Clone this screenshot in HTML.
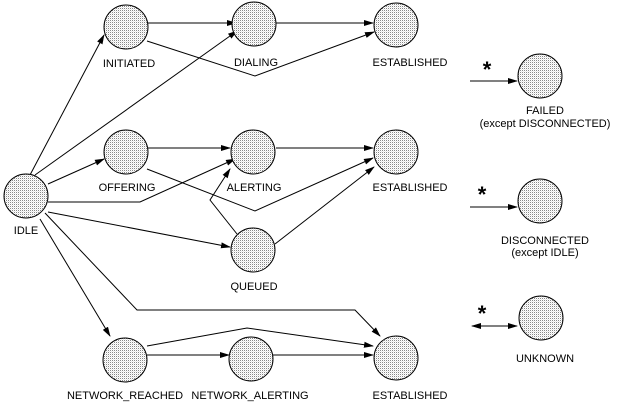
<!DOCTYPE html>
<html><head><style>
html,body{margin:0;padding:0;background:#fff;}
svg{display:block;}
text{font-family:"Liberation Sans",sans-serif;font-size:11px;fill:#000;text-anchor:middle;}
</style></head><body>
<svg width="621" height="414" viewBox="0 0 621 414" xmlns="http://www.w3.org/2000/svg">
<defs>
<pattern id="dots" width="2" height="2" patternUnits="userSpaceOnUse">
<rect width="2" height="2" fill="#fff"/><rect width="1" height="1" fill="#888"/><rect x="1" y="1" width="1" height="1" fill="#e8e8e8"/>
</pattern>
<marker id="a" markerWidth="10" markerHeight="8" refX="9" refY="4" orient="auto" markerUnits="userSpaceOnUse">
<path d="M0,1 L10,4 L0,7 z" fill="#000"/></marker>
<marker id="b" markerWidth="10" markerHeight="8" refX="1" refY="4" orient="auto" markerUnits="userSpaceOnUse">
<path d="M10,1 L0,4 L10,7 z" fill="#000"/></marker>
</defs>
<g fill="none" stroke="#000" stroke-width="1">
<line x1="148" y1="23" x2="236" y2="23" marker-end="url(#a)"/>
<line x1="276" y1="23" x2="373" y2="23" marker-end="url(#a)"/>
<polyline points="147,41 255,76 374,32" marker-end="url(#a)"/>
<line x1="30" y1="175" x2="104" y2="35" marker-end="url(#a)"/>
<line x1="35" y1="175" x2="237" y2="31" marker-end="url(#a)"/>
<line x1="48" y1="184" x2="104" y2="159" marker-end="url(#a)"/>
<polyline points="48,202 140,202 235,159" marker-end="url(#a)"/>
<line x1="148" y1="148" x2="230" y2="148" marker-end="url(#a)"/>
<line x1="276" y1="148" x2="373" y2="148" marker-end="url(#a)"/>
<polyline points="147,169 255,211 373,158" marker-end="url(#a)"/>
<polyline points="237,234 210,200 230,169" marker-end="url(#a)"/>
<line x1="275" y1="244" x2="374" y2="167" marker-end="url(#a)"/>
<line x1="48" y1="212" x2="230" y2="247" marker-end="url(#a)"/>
<line x1="40" y1="219" x2="110" y2="336" marker-end="url(#a)"/>
<polyline points="45,213 137,310 355,310 380,336" marker-end="url(#a)"/>
<polyline points="147,346 247,328 373,346" marker-end="url(#a)"/>
<line x1="147" y1="355" x2="229" y2="355" marker-end="url(#a)"/>
<line x1="273" y1="355" x2="373" y2="355" marker-end="url(#a)"/>
<line x1="470" y1="81" x2="517" y2="81" marker-end="url(#a)"/>
<line x1="470" y1="207" x2="517" y2="207" marker-end="url(#a)"/>
<line x1="472" y1="326" x2="517" y2="326" marker-end="url(#a)" marker-start="url(#b)"/>
</g>
<g fill="url(#dots)" stroke="#000" stroke-width="1">
<circle cx="26" cy="196" r="22"/>
<circle cx="126" cy="27" r="22"/>
<circle cx="254" cy="24" r="22"/>
<circle cx="396" cy="25" r="22"/>
<circle cx="126" cy="152" r="22"/>
<circle cx="253" cy="152" r="22"/>
<circle cx="396" cy="152" r="22"/>
<circle cx="253" cy="250" r="22"/>
<circle cx="125" cy="360" r="22"/>
<circle cx="251" cy="359" r="22"/>
<circle cx="396" cy="358" r="22"/>
<circle cx="540" cy="76" r="22"/>
<circle cx="540" cy="201" r="22"/>
<circle cx="541" cy="318" r="22"/>
</g>
<g>
<text x="129" y="67">INITIATED</text>
<text x="256" y="66">DIALING</text>
<text x="410" y="66">ESTABLISHED</text>
<text x="127" y="191">OFFERING</text>
<text x="254" y="191">ALERTING</text>
<text x="410" y="191">ESTABLISHED</text>
<text x="26" y="234">IDLE</text>
<text x="254" y="290">QUEUED</text>
<text x="125" y="399">NETWORK_REACHED</text>
<text x="250" y="399">NETWORK_ALERTING</text>
<text x="410" y="399">ESTABLISHED</text>
<text x="545" y="114">FAILED</text>
<text x="545" y="127">(except DISCONNECTED)</text>
<text x="545" y="244">DISCONNECTED</text>
<text x="545" y="256">(except IDLE)</text>
<text x="545" y="362">UNKNOWN</text>
<text x="487" y="77" style="font-size:22px;font-weight:bold">*</text>
<text x="482" y="202" style="font-size:22px;font-weight:bold">*</text>
<text x="482" y="321" style="font-size:22px;font-weight:bold">*</text>
</g>
</svg>
</body></html>
